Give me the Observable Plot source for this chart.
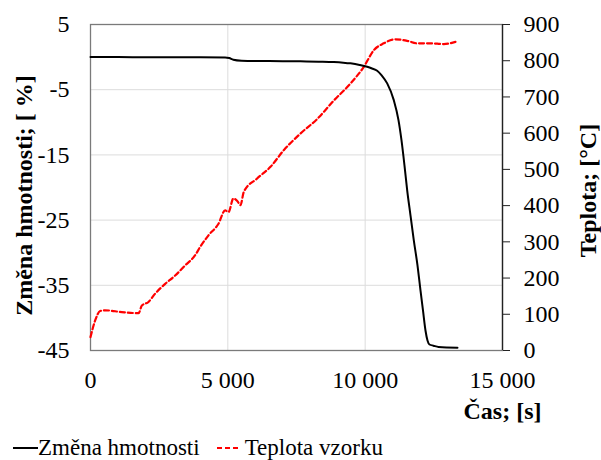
<!DOCTYPE html>
<html>
<head>
<meta charset="utf-8">
<script src="https://cdn.jsdelivr.net/npm/d3@7"></script>
<script src="https://cdn.jsdelivr.net/npm/@observablehq/plot@0.6"></script>
<style>
  body { margin: 0; background: #fff; }
  #legend { font-family: "Liberation Serif", serif; font-size: 23px; color: #000; position: absolute; left: 13px; top: 435px; white-space: nowrap; display: flex; align-items: center; }
  #legend svg { display: inline-block; }
</style>
</head>
<body>
<div id="chart"></div>
<div id="legend"></div>
<script>
// Změna hmotnosti [%] vs čas [s]
const massTime = [0, 1000, 2000, 3000, 4000, 4900, 5050, 5200, 5500, 6000, 7000, 7645, 8300, 8858, 9200, 9465, 9800, 10072, 10250, 10436, 10600, 10802, 11042, 11213, 11322, 11431, 11530, 11650, 11771, 11905, 12014, 12105, 12196, 12269, 12342, 12488, 12670, 13361];
const massValue = [0, 0, -0.02, -0.03, -0.03, -0.05, -0.15, -0.4, -0.55, -0.6, -0.62, -0.65, -0.7, -0.76, -0.85, -0.96, -1.2, -1.48, -1.75, -2.1, -2.8, -4.03, -6.6, -9.67, -12.74, -16.59, -20.43, -24.26, -28.1, -31.94, -35.78, -38.86, -41.93, -43.46, -44.08, -44.26, -44.46, -44.57];
// Teplota vzorku [°C] vs čas [s]
const tempTime = [0, 170, 350, 530, 1140, 1750, 1870, 2110, 2355, 2720, 3083, 3447, 3810, 3993, 4296, 4660, 4902, 5023, 5205, 5350, 5460, 5581, 6066, 6553, 7037, 7645, 8252, 8858, 9465, 9950, 10314, 10678, 11104, 11529, 11893, 12378, 12864, 13287];
const tempValue = [37, 83, 109, 111, 106, 103, 124, 134, 157, 184, 207, 235, 263, 286, 318, 350, 387, 382, 420, 412, 401, 438, 475, 507, 553, 599, 639, 690, 737, 783, 829, 848, 859, 855, 848, 848, 846, 852];

const leftTicks = [-45, -35, -25, -15, -5, 5];
const rightTicks = [0, 100, 200, 300, 400, 500, 600, 700, 800, 900];
const xTicks = [0, 5000, 10000, 15000];
const gridXTicks = [5000, 10000];
const gridYTicks = [-35, -25, -15, -5];

const yTitle = "Změna hmotnosti; [ %]";
const y2Title = "Teplota; [°C]";
const xTitle = "Čas; [s]";
const seriesNames = ["Změna hmotnosti", "Teplota vzorku"];

// map temperature onto the left scale domain
const toY = T => -45 + T * 50 / 900;
const fromY = v => Math.round((v + 45) * 900 / 50);

const mass = massTime.map((t, i) => ({t, v: massValue[i]}));
const temp = tempTime.map((t, i) => ({t, v: toY(tempValue[i])}));

const fmt = d => d === 0 ? "0" : d3.format(",")(d).replace(/,/g, "\u00a0");
const FONT = "'Liberation Serif', serif";

const chart = Plot.plot({
  width: 601,
  height: 430,
  marginLeft: 90,
  marginRight: 99,
  marginTop: 24,
  marginBottom: 80,
  style: {fontFamily: FONT, color: "#000", background: "#fff", overflow: "visible"},
  x: {domain: [0, 15000]},
  y: {domain: [-45, 5]},
  marks: [
    Plot.gridX(gridXTicks, {stroke: "#dcdcdc", strokeOpacity: 1, strokeWidth: 1}),
    Plot.gridY(gridYTicks, {stroke: "#dcdcdc", strokeOpacity: 1, strokeWidth: 1}),
    Plot.frame({stroke: "#7a7a7a", strokeWidth: 1.3}),
    Plot.ruleX([15000], {stroke: "#222", strokeWidth: 1.3}),
    Plot.axisY({ticks: leftTicks, anchor: "left", tickSize: 0, tickPadding: 21, fontSize: 24, label: null, tickFormat: d => String(d)}),
    Plot.axisY({ticks: rightTicks.map(toY), anchor: "right", tickSize: 7, tickPadding: 14, fontSize: 24, label: null, stroke: "#222", tickFormat: fromY}),
    Plot.axisX({ticks: xTicks, anchor: "bottom", tickSize: 0, tickPadding: 20, fontSize: 24, label: null, tickFormat: fmt}),
    Plot.line(temp, {x: "t", y: "v", stroke: "#ff0000", strokeWidth: 2.2, strokeDasharray: "5,3", curve: "monotone-x"}),
    Plot.line(mass, {x: "t", y: "v", stroke: "#000", strokeWidth: 2, curve: "monotone-x"}),
    Plot.text([yTitle], {frameAnchor: "left", textAnchor: "middle", dx: -66, dy: 8, rotate: -90, fontSize: 24, fontWeight: "bold", fill: "#000"}),
    Plot.text([y2Title], {frameAnchor: "right", textAnchor: "middle", dx: 86, dy: 3, rotate: -90, fontSize: 24, fontWeight: "bold", fill: "#000"}),
    Plot.text([xTitle], {frameAnchor: "bottom-right", textAnchor: "middle", dy: 68, fontSize: 24, fontWeight: "bold", fill: "#000"})
  ]
});
document.getElementById("chart").appendChild(chart);

const legend = document.getElementById("legend");
legend.innerHTML =
  `<svg width="25" height="10"><line x1="0" y1="5" x2="25" y2="5" stroke="#000" stroke-width="2"/></svg>` +
  `<span>${seriesNames[0]}</span>` +
  `<svg width="24" height="10" style="margin-left:17px;margin-right:4px"><line x1="0" y1="5" x2="24" y2="5" stroke="#ff0000" stroke-width="2.2" stroke-dasharray="5,3"/></svg>` +
  `<span>${seriesNames[1]}</span>`;
</script>
</body>
</html>
